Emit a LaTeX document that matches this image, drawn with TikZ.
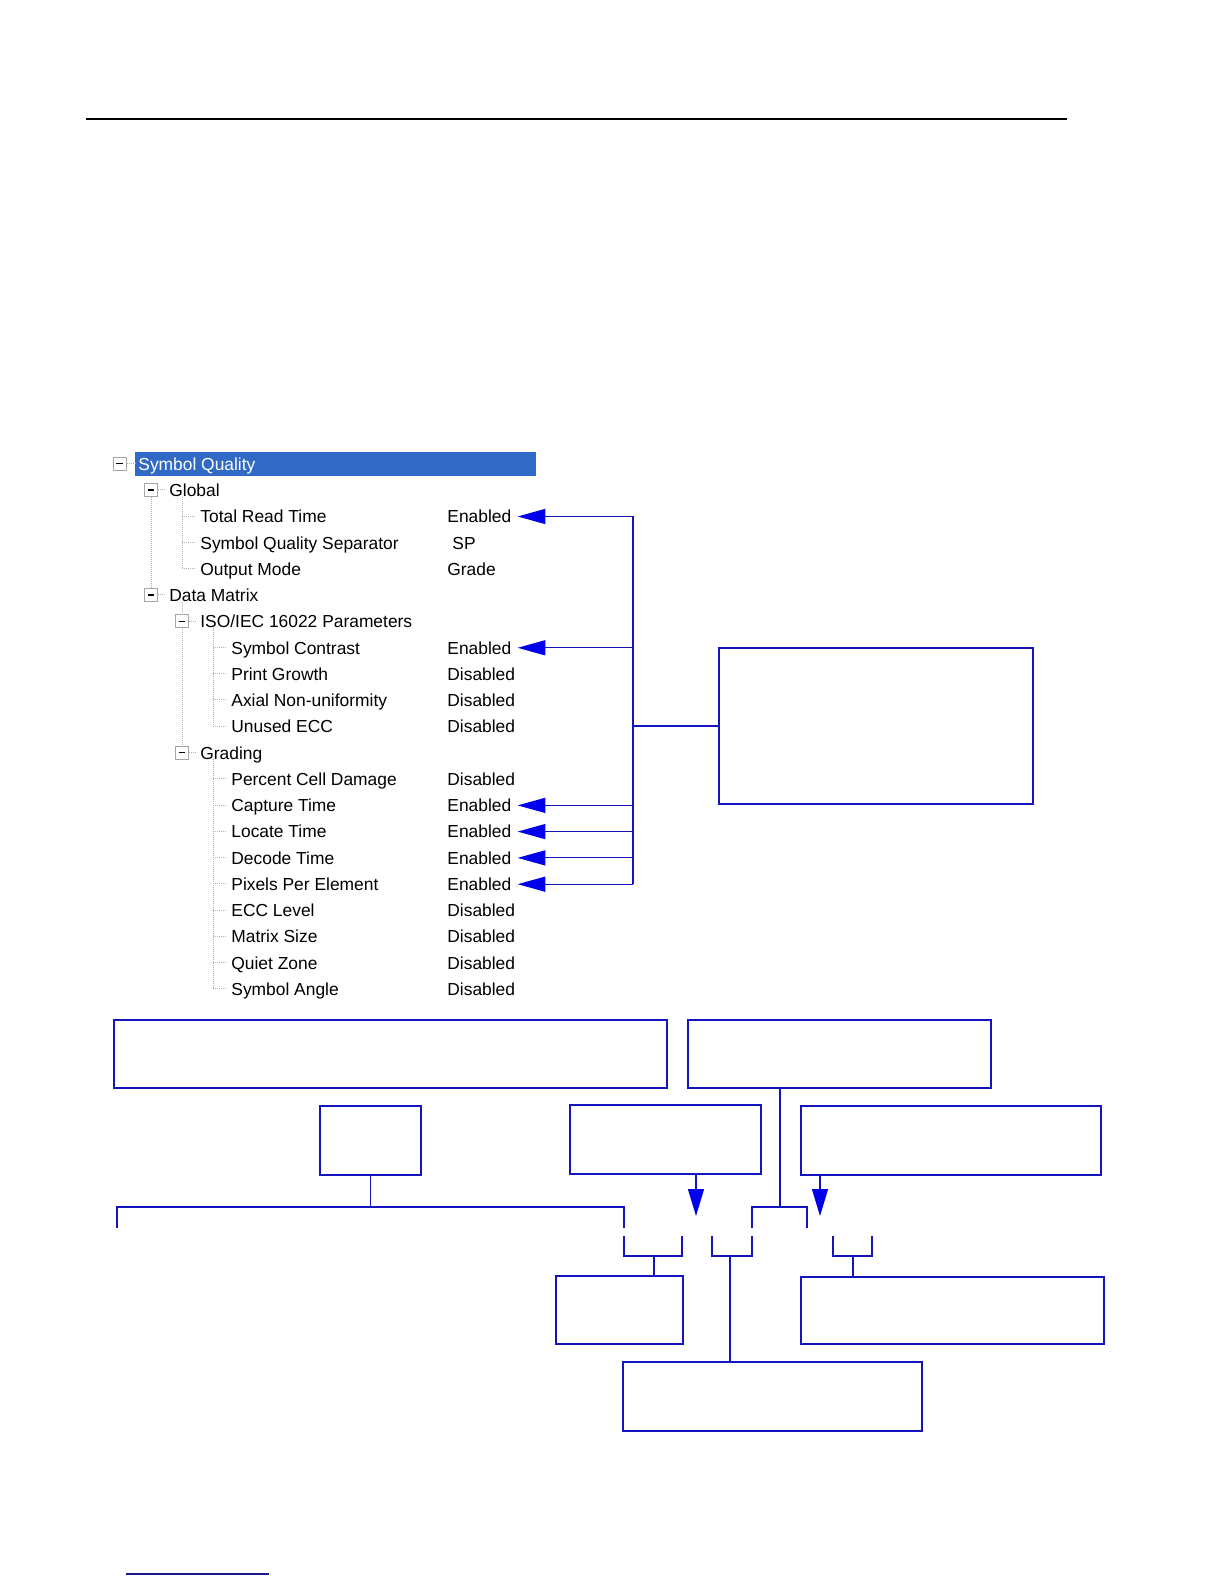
\documentclass[tikz,border=0pt]{standalone}
\usepackage{fontspec}
\newfontfamily\treefont{Liberation Sans}
\usepackage{xcolor}
\usepackage{tikz}
\usetikzlibrary{arrows.meta, positioning}
\definecolor{lineblue}{RGB}{20,20,190}
\definecolor{tipblue}{RGB}{0,0,235}
\definecolor{selblue}{RGB}{49,106,197}
\definecolor{navy}{RGB}{25,25,140}

\begin{document}
\begin{tikzpicture}[
                        x = 0.5pt, y = -0.5pt,
                        font       = \treefont\fontsize{8.7}{10}\selectfont,
                        item/.style= {anchor=base west, inner sep=0pt},
                        pm/.style  = {draw=gray!70, fill=white, minimum size=6.5pt, inner sep=0pt, line width=0.5pt,
                                    path picture={\draw[black, line width=0.6pt]
                                    ([xshift=-1.7pt]path picture bounding box.center) -- ([xshift=1.7pt]path picture bounding box.center);}},
                        tl/.style  = {draw=gray!60, line width=0.5pt, dash pattern=on 0.5pt off 0.5pt},
                        box/.style = {draw=lineblue, line width=0.6pt, inner sep=0pt},
                        ln/.style  = {draw=lineblue, line width=0.6pt},
                        ar/.style  = {ln, -{Triangle[length=13.8pt, width=7.5pt, color=tipblue]}},
                        ard/.style = {ln, -{Triangle[length=13.5pt, width=8pt, color=tipblue]}}
                  ]
                  \useasboundingbox (0,0) rectangle (1224,1584);
                  \draw[line width=0.8pt] (86,119) -- (1067,119);
                  \draw[navy, line width=0.8pt] (126,1574) -- (269,1574);

                  % tree
                  \fill[selblue] (135,451.5) rectangle (536,475.7);
                  \node[pm]   (pm0) at (119.5,463.6) {};
                  \node[item, text=white] (sq) at (138,470.2) {Symbol Quality};
                  \node[pm]   (pmG) at (151,489.9) {};
                  \node[item] (glob) at (169,496.5) {Global};
                  \node[item] (trt)  at (200,522.7) {Total Read Time};
                  \node[item] (sqs)  at (200,549.0) {Symbol Quality Separator};
                  \node[item] (om)   at (200,575.2) {Output Mode};
                  \node[pm]   (pmD) at (151,594.9) {};
                  \node[item] (dm)   at (169,601.5) {Data Matrix};
                  \node[pm]   (pmI) at (182,621.2) {};
                  \node[item] (iso)  at (200,627.8) {ISO/IEC 16022 Parameters};
                  \node[item] (sc)   at (231,654.0) {Symbol Contrast};
                  \node[item] (pg)   at (231,680.3) {Print Growth};
                  \node[item] (anu)  at (231,706.5) {Axial Non-uniformity};
                  \node[item] (ue)   at (231,732.8) {Unused ECC};
                  \node[pm]   (pmR) at (182,752.5) {};
                  \node[item] (grd)  at (200,759.1) {Grading};
                  \node[item] (pcd)  at (231,785.3) {Percent Cell Damage};
                  \node[item] (ct)   at (231,811.6) {Capture Time};
                  \node[item] (lt)   at (231,837.8) {Locate Time};
                  \node[item] (dt)   at (231,864.1) {Decode Time};
                  \node[item] (ppe)  at (231,890.4) {Pixels Per Element};
                  \node[item] (ecc)  at (231,916.6) {ECC Level};
                  \node[item] (ms)   at (231,942.9) {Matrix Size};
                  \node[item] (qz)   at (231,969.1) {Quiet Zone};
                  \node[item] (sa)   at (231,995.4) {Symbol Angle};

                  \node[item] (vtrt) at (447,522.7) {Enabled};
                  \node[item] (vsqs) at (452,549.0) {SP};
                  \node[item] (vom)  at (447,575.2) {Grade};
                  \node[item] (vsc)  at (447,654.0) {Enabled};
                  \node[item] (vpg)  at (447,680.3) {Disabled};
                  \node[item] (vanu) at (447,706.5) {Disabled};
                  \node[item] (vue)  at (447,732.8) {Disabled};
                  \node[item] (vpcd) at (447,785.3) {Disabled};
                  \node[item] (vct)  at (447,811.6) {Enabled};
                  \node[item] (vlt)  at (447,837.8) {Enabled};
                  \node[item] (vdt)  at (447,864.1) {Enabled};
                  \node[item] (vppe) at (447,890.4) {Enabled};
                  \node[item] (vecc) at (447,916.6) {Disabled};
                  \node[item] (vms)  at (447,942.9) {Disabled};
                  \node[item] (vqz)  at (447,969.1) {Disabled};
                  \node[item] (vsa)  at (447,995.4) {Disabled};

                  \draw[tl] (pm0.east) -- (135,463.6);
                  \draw[tl] (pmG.east) -- (166,489.9);
                  \draw[tl] (pmD.east) -- (166,594.9);
                  \draw[tl] (pmI.east) -- (197,621.2);
                  \draw[tl] (pmR.east) -- (197,752.5);
                  \draw[tl] (pmG.south) -- (pmD.north);
                  \draw[tl] (182,602) -- (pmI.north) (pmI.south) -- (pmR.north);
                  \draw[tl] (182,497) -- (182,568.6) (182,516.1) -- +(13,0) (182,542.4) -- +(13,0) (182,568.6) -- +(13,0);
                  \draw[tl] (213,628) -- (213,726.2) (213,647.4) -- +(13,0) (213,673.7) -- +(13,0)
                            (213,699.9) -- +(13,0) (213,726.2) -- +(13,0);
                  \draw[tl] (213,759) -- (213,988.8) (213,778.7) -- +(13,0) (213,805.0) -- +(13,0)
                            (213,831.2) -- +(13,0) (213,857.5) -- +(13,0) (213,883.8) -- +(13,0)
                            (213,910.0) -- +(13,0) (213,936.3) -- +(13,0) (213,962.5) -- +(13,0)
                            (213,988.8) -- +(13,0);

                  % boxes
                  \node[box, minimum width=157pt,   minimum height=78pt]   (note)   at (876,726)      {};
                  \node[box, minimum width=276.5pt, minimum height=34pt]   (fieldL) at (390.5,1054)   {};
                  \node[box, minimum width=151.5pt, minimum height=34pt]   (fieldR) at (839.5,1054)   {};
                  \node[box, minimum width=50.5pt,  minimum height=34.5pt] (pre)    at (370.5,1140.5) {};
                  \node[box, minimum width=95.5pt,  minimum height=34.5pt] (dsep)   at (665.5,1139.5) {};
                  \node[box, minimum width=150pt,   minimum height=34.5pt] (gsep)   at (951,1140.5)   {};
                  \node[box, minimum width=63.5pt,  minimum height=34pt]   (ttime)  at (619.5,1310)   {};
                  \node[box, minimum width=151.5pt, minimum height=33.5pt] (ltime)  at (952.5,1310.5) {};
                  \node[box, minimum width=149.5pt, minimum height=34.5pt] (tcnt)   at (772.5,1396.5) {};

                  % arrows to the enabled items
                  \coordinate (bus) at (633,0);
                  \draw[ln] (bus |- vtrt) -- (bus |- vppe);
                  \draw[ln] (bus |- note.west) -- (note.west);
                  \draw[ar] (bus |- vtrt) -- ([xshift=3pt]vtrt.east);
                  \draw[ar] (bus |- vsc)  -- ([xshift=3pt]vsc.east);
                  \draw[ar] (bus |- vct)  -- ([xshift=3pt]vct.east);
                  \draw[ar] (bus |- vlt)  -- ([xshift=3pt]vlt.east);
                  \draw[ar] (bus |- vdt)  -- ([xshift=3pt]vdt.east);
                  \draw[ar] (bus |- vppe) -- ([xshift=3pt]vppe.east);

                  % brackets
                  \coordinate (topA) at (0,1207);
                  \coordinate (bStem) at (780,1207);
                  \coordinate (dTip) at (696,1216);
                  \coordinate (gTip) at (820,1216);
                  \coordinate (fS) at (654,1256);
                  \coordinate (hS) at (730,1256);
                  \coordinate (gS) at (853,1256);
                  \draw[ln] (117,1228) |- (624,1207) -- (624,1228);
                  \draw[ln] (752,1228) |- (807,1207) -- (807,1228);
                  \draw[ln] (pre.south) -- (pre.south |- topA);
                  \draw[ln] (bStem |- fieldR.south) -- (bStem);
                  \draw[ard] (dTip |- dsep.south) -- (dTip);
                  \draw[ard] (gTip |- gsep.south) -- (gTip);
                  \draw[ln] (624,1236) |- (682,1256) -- (682,1236);
                  \draw[ln] (712,1236) |- (752,1256) -- (752,1236);
                  \draw[ln] (833,1236) |- (872,1256) -- (872,1236);
                  \draw[ln] (fS) -- (fS |- ttime.north);
                  \draw[ln] (hS) -- (hS |- tcnt.north);
                  \draw[ln] (gS) -- (gS |- ltime.north);
            \end{tikzpicture}
\end{document}
